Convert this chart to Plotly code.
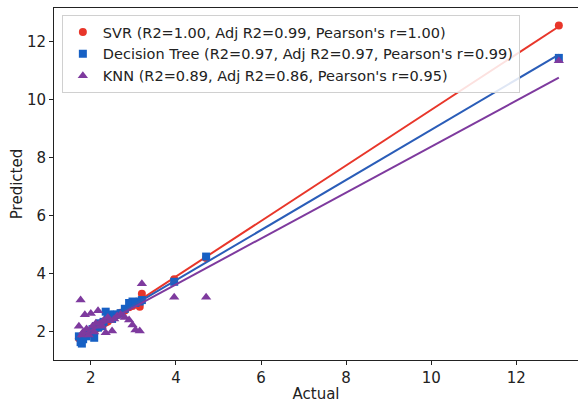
import numpy as np
import plotly.graph_objects as go

# Test-set targets and model predictions
actual = [1.72, 1.76, 1.79, 1.82, 1.86, 1.90, 1.95, 2.00, 2.04, 2.08,
          2.12, 2.17, 2.21, 2.26, 2.30, 2.35, 2.40, 2.45, 2.50, 2.55,
          2.62, 2.70, 2.80, 2.90, 2.98, 3.05, 3.15, 3.20, 3.96, 4.71, 13.0]

svr_pred = [1.78, 1.80, 1.85, 1.83, 1.92, 1.90, 1.96, 2.02, 2.03, 2.05,
            2.10, 2.18, 2.16, 2.25, 2.28, 2.33, 2.36, 2.44, 2.47, 2.52,
            2.58, 2.66, 2.74, 2.85, 2.90, 2.97, 2.87, 3.32, 3.82, 4.55, 12.57]

dt_pred = [1.85, 1.65, 1.60, 1.75, 1.90, 1.85, 2.00, 1.95, 2.10, 1.80,
           2.20, 2.15, 2.30, 2.20, 2.35, 2.70, 2.50, 2.60, 2.45, 2.60,
           2.60, 2.65, 2.80, 3.00, 3.05, 3.00, 3.05, 3.10, 3.73, 4.60, 11.45]

knn_pred = [2.20, 3.10, 1.90, 2.00, 2.59, 2.10, 1.90, 2.64, 2.20, 2.00,
            2.30, 2.73, 2.30, 2.20, 2.40, 1.97, 2.50, 2.40, 2.03, 2.45,
            2.55, 2.60, 2.50, 2.41, 2.24, 2.07, 2.03, 3.66, 3.20, 3.20, 11.35]

model_names = [
    "SVR (R2=1.00, Adj R2=0.99, Pearson's r=1.00)",
    "Decision Tree (R2=0.97, Adj R2=0.97, Pearson's r=0.99)",
    "KNN (R2=0.89, Adj R2=0.86, Pearson's r=0.95)",
]
marker_colors = ["#e8362a", "#1760c4", "#7e3a9e"]
line_colors = ["#e8362a", "#2a5db8", "#7e3a9e"]
symbols = ["circle", "square", "triangle-up"]
sizes = [8, 8, 9]

fig = go.Figure()
x = np.array(actual)
x_line = np.array([x.min(), x.max()])
for name, preds, mc, lc, sym, sz in zip(model_names, [svr_pred, dt_pred, knn_pred],
                                         marker_colors, line_colors, symbols, sizes):
    y = np.array(preds)
    fig.add_trace(go.Scatter(
        x=x, y=y, mode="markers", name=name,
        marker=dict(symbol=sym, size=sz, color=mc, line=dict(width=0)),
    ))
    slope, intercept = np.polyfit(x, y, 1)
    fig.add_trace(go.Scatter(
        x=x_line, y=slope * x_line + intercept, mode="lines",
        line=dict(color=lc, width=2), showlegend=False, hoverinfo="skip",
    ))

axis_common = dict(
    showgrid=False, zeroline=False, showline=True, linecolor="#222222", linewidth=1,
    ticks="outside", ticklen=4, tickwidth=1, tickcolor="#222222",
    tickfont=dict(size=15, color="#222222"),
    title_font=dict(size=15, color="#222222"),
)

fig.update_layout(
    width=578, height=403,
    margin=dict(l=54, r=0, t=8, b=43),
    plot_bgcolor="white", paper_bgcolor="white",
    font=dict(family="DejaVu Sans", color="#222222"),
    xaxis=dict(range=[1.135, 13.45], dtick=2, tick0=0, mirror=True,
               title=dict(text="Actual", standoff=2), **axis_common),
    yaxis=dict(range=[1.034, 13.17], dtick=2, tick0=0,
               title=dict(text="Predicted", standoff=0), **axis_common),
    legend=dict(
        x=0.015, y=0.98, xanchor="left", yanchor="top",
        bgcolor="rgba(255,255,255,0.85)", bordercolor="#d0d0d0", borderwidth=1,
        font=dict(size=14.5, color="#222222"), itemsizing="trace",
        tracegroupgap=0,
    ),
    showlegend=True,
)

fig.write_html("out.html")
